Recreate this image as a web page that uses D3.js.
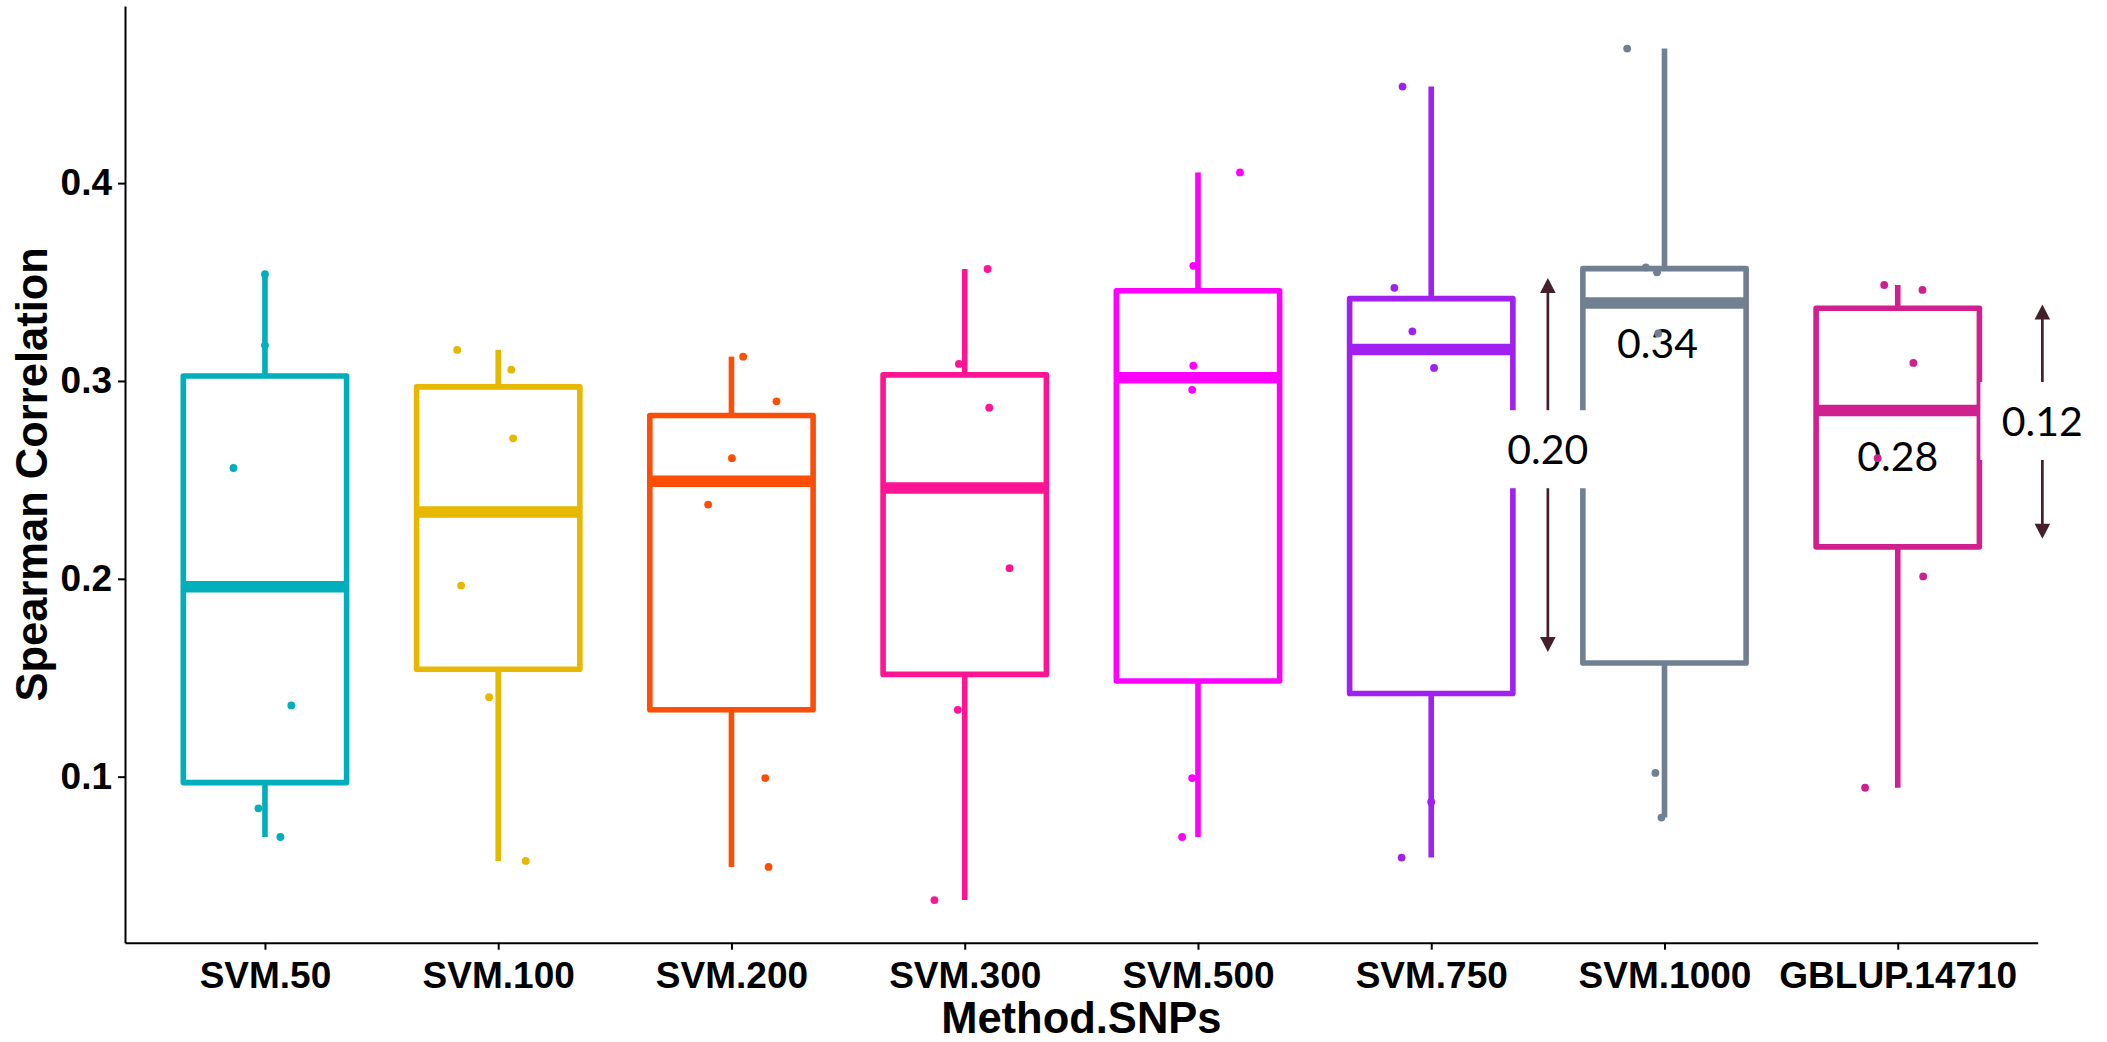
<!DOCTYPE html>
<html>
<head>
<meta charset="utf-8">
<script src="https://cdn.jsdelivr.net/npm/d3@7"></script>
<style>
  html, body { margin: 0; padding: 0; background: #ffffff; }
  svg { display: block; }
</style>
</head>
<body>
<svg id="chart" width="2107" height="1042"></svg>
<script>
// ---------------- data ----------------
const categories = ["SVM.50", "SVM.100", "SVM.200", "SVM.300", "SVM.500", "SVM.750", "SVM.1000", "GBLUP.14710"];
const colors = ["#00AFBB", "#E7B800", "#FC4E07", "#FF1493", "#FF00FF", "#A020F0", "#708090", "#D02090"];

// Spearman correlations (6 per method)
const valsSVM50    = [0.354, 0.318, 0.256, 0.136, 0.084, 0.0695];
const valsSVM100   = [0.3157, 0.3057, 0.271, 0.1966, 0.1402, 0.0574];
const valsSVM200   = [0.3123, 0.2897, 0.261, 0.2375, 0.0993, 0.0544];
const valsSVM300   = [0.3566, 0.3086, 0.2865, 0.2054, 0.1338, 0.0376];
const valsSVM500   = [0.4054, 0.3582, 0.3077, 0.2955, 0.0993, 0.0695];
const valsSVM750   = [0.4488, 0.3471, 0.3251, 0.3066, 0.0872, 0.0591];
const valsSVM1000  = [0.468, 0.3574, 0.3549, 0.324, 0.1019, 0.0793];
const valsGBLUP    = [0.3485, 0.346, 0.3091, 0.261, 0.2012, 0.0944];

// horizontal jitter of each point, as a fraction of the category step
const jitSVM50   = [0.0, 0.0, -0.135, 0.113, -0.028, 0.066];
const jitSVM100  = [-0.176, 0.056, 0.064, -0.159, -0.039, 0.118];
const jitSVM200  = [0.05, 0.193, 0.002, -0.10, 0.145, 0.159];
const jitSVM300  = [0.098, -0.025, 0.105, 0.192, -0.03, -0.13];
const jitSVM500  = [0.18, -0.02, -0.02, -0.025, -0.025, -0.068];
const jitSVM750  = [-0.123, -0.158, -0.081, 0.012, 0.0, -0.127];
const jitSVM1000 = [-0.16, -0.08, -0.032, -0.027, -0.039, -0.013];
const jitGBLUP   = [-0.058, 0.106, 0.067, -0.086, 0.109, -0.14];

const yTicks = [0.1, 0.2, 0.3, 0.4];

// annotations (values in data units)
const medianNotes = [
  { label: "0.34", cat: "SVM.1000", shift: -0.03, value: 0.3193 },
  { label: "0.28", cat: "GBLUP.14710", shift: 0.0, value: 0.2621 }
];
const rangeNotes = [
  { label: "0.20", cat: "SVM.750", shift: 0.5, hiVal: 0.3521, loVal: 0.163, mid: 0.2655 },
  { label: "0.12", cat: "GBLUP.14710", shift: 0.62, hiVal: 0.3386, loVal: 0.2202, mid: 0.2798 }
];

const allVals = [valsSVM50, valsSVM100, valsSVM200, valsSVM300, valsSVM500, valsSVM750, valsSVM1000, valsGBLUP];
const allJit = [jitSVM50, jitSVM100, jitSVM200, jitSVM300, jitSVM500, jitSVM750, jitSVM1000, jitGBLUP];

// ---------------- layout ----------------
const W = 2107, H = 1042;
const mLeft = 125, mRight = 2037.7, mTop = 6, mBottom = 942.7;
const lw = 5.6;          // box line width
const medW = 11.5;       // median line width
const boxFrac = 0.70;    // box width as fraction of step
const axisFont = "'Liberation Sans', Arial, Helvetica, sans-serif";
const noteFont = "Lato, 'Open Sans', sans-serif";
const arrowColor = "#44202B";

const svg = d3.select("#chart");
svg.append("rect").attr("width", W).attr("height", H).attr("fill", "#ffffff");

const groups = categories.map((c, i) => {
  const v = allVals[i].slice().sort(d3.ascending);
  const q1 = d3.quantile(v, 0.25), med = d3.quantile(v, 0.5), q3 = d3.quantile(v, 0.75);
  const iqr = q3 - q1;
  const lo = d3.min(v.filter(d => d >= q1 - 1.5 * iqr));
  const hi = d3.max(v.filter(d => d <= q3 + 1.5 * iqr));
  return { cat: c, color: colors[i], q1, med, q3, lo, hi,
           pts: allVals[i].map((d, k) => ({ v: d, j: allJit[i][k] })) };
});

const flat = allVals.flat();
const dMin = d3.min(flat), dMax = d3.max(flat), span = dMax - dMin;

const x = d3.scalePoint().domain(categories).range([mLeft, mRight]).padding(0.6);
const y = d3.scaleLinear().domain([dMin - 0.05 * span, dMax + 0.05 * span]).range([mBottom, mTop]);
const step = x.step();
const bw = boxFrac * step;

// ---------------- boxes ----------------
const gBox = svg.append("g");
groups.forEach(g => {
  const cx = x(g.cat);
  const gg = gBox.append("g");
  gg.append("line").attr("x1", cx).attr("x2", cx).attr("y1", y(g.q3)).attr("y2", y(g.hi))
    .attr("stroke", g.color).attr("stroke-width", lw);
  gg.append("line").attr("x1", cx).attr("x2", cx).attr("y1", y(g.q1)).attr("y2", y(g.lo))
    .attr("stroke", g.color).attr("stroke-width", lw);
  gg.append("rect").attr("x", cx - bw / 2).attr("width", bw)
    .attr("y", y(g.q3)).attr("height", y(g.q1) - y(g.q3))
    .attr("fill", "#ffffff").attr("stroke", g.color).attr("stroke-width", lw)
    .attr("stroke-linejoin", "round");
  gg.append("line").attr("x1", cx - bw / 2).attr("x2", cx + bw / 2)
    .attr("y1", y(g.med)).attr("y2", y(g.med))
    .attr("stroke", g.color).attr("stroke-width", medW);
});

// ---------------- median labels ----------------
svg.append("g").selectAll("text").data(medianNotes).join("text")
  .attr("x", d => x(d.cat) + d.shift * step)
  .attr("y", d => y(d.value))
  .attr("dy", "0.36em")
  .attr("text-anchor", "middle")
  .attr("font-family", noteFont)
  .attr("font-size", 41)
  .attr("fill", "#000000")
  .text(d => d.label);

// ---------------- points ----------------
const gPts = svg.append("g");
groups.forEach(g => {
  gPts.selectAll(null).data(g.pts).join("circle")
    .attr("cx", d => x(g.cat) + d.j * step)
    .attr("cy", d => y(d.v))
    .attr("r", 3.9)
    .attr("fill", g.color);
});

// ---------------- range arrows with labels ----------------
const gNotes = svg.append("g");
rangeNotes.forEach(n => {
  const ax = x(n.cat) + n.shift * step;
  const yt = y(n.hiVal), yb = y(n.loVal), ym = y(n.mid);
  const hl = 15, hw = 7.8;
  gNotes.append("line").attr("x1", ax).attr("x2", ax).attr("y1", yt + hl - 1).attr("y2", yb - hl + 1)
    .attr("stroke", arrowColor).attr("stroke-width", 2.7);
  gNotes.append("path").attr("d", `M${ax},${yt} L${ax - hw},${yt + hl} L${ax + hw},${yt + hl} Z`).attr("fill", arrowColor);
  gNotes.append("path").attr("d", `M${ax},${yb} L${ax - hw},${yb - hl} L${ax + hw},${yb - hl} Z`).attr("fill", arrowColor);
  gNotes.append("rect").attr("x", ax - 62).attr("y", ym - 39).attr("width", 124).attr("height", 78)
    .attr("fill", "#ffffff");
  gNotes.append("text").attr("x", ax).attr("y", ym).attr("dy", "0.36em")
    .attr("text-anchor", "middle").attr("font-family", noteFont).attr("font-size", 41)
    .attr("fill", "#000000").text(n.label);
});

// ---------------- axes ----------------
const yAxis = svg.append("g").attr("transform", `translate(${mLeft},0)`)
  .call(d3.axisLeft(y).tickValues(yTicks).tickFormat(d3.format(".1f")).tickSize(7).tickSizeOuter(0).tickPadding(6));
const xAxis = svg.append("g").attr("transform", `translate(0,${mBottom})`)
  .call(d3.axisBottom(x).tickSize(7).tickSizeOuter(0).tickPadding(12));

[yAxis, xAxis].forEach(a => {
  a.attr("font-family", null).attr("font-size", null);
  a.select(".domain").attr("stroke", "#000000").attr("stroke-width", 2);
  a.selectAll(".tick line").attr("stroke", "#000000").attr("stroke-width", 2);
  a.selectAll(".tick text").attr("fill", "#000000")
    .attr("font-family", axisFont).attr("font-weight", "bold").attr("font-size", 37);
});

// titles
svg.append("text")
  .attr("x", (mLeft + mRight) / 2).attr("y", 1033)
  .attr("text-anchor", "middle")
  .attr("font-family", axisFont).attr("font-weight", "bold").attr("font-size", 43.5)
  .attr("fill", "#000000")
  .text("Method.SNPs");

svg.append("text")
  .attr("transform", `translate(47,${(mTop + mBottom) / 2}) rotate(-90)`)
  .attr("text-anchor", "middle")
  .attr("font-family", axisFont).attr("font-weight", "bold").attr("font-size", 43.5)
  .attr("fill", "#000000")
  .text("Spearman Correlation");
</script>
</body>
</html>
